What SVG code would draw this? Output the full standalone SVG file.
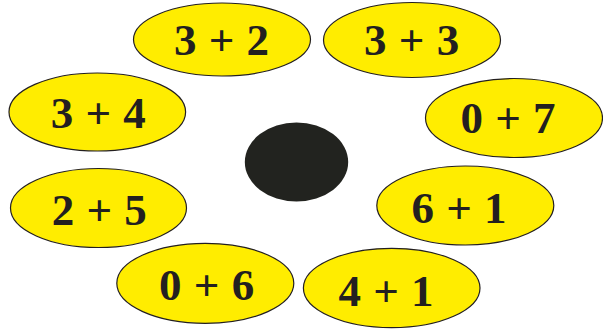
<svg xmlns="http://www.w3.org/2000/svg" width="603" height="331" viewBox="0 0 603 331">
<style>
.pet{fill:#ffed00;stroke:#231f20;stroke-width:1.2}
.lbl{font-family:"Liberation Serif","Times New Roman",serif;font-weight:bold;font-size:45px;fill:#231f20;text-anchor:middle;word-spacing:1px}
</style>
<rect width="603" height="331" fill="#ffffff"/>
<g id="center"><ellipse cx="296.5" cy="162" rx="51.7" ry="39.5" fill="#22231f"/></g>
<g id="n32"><ellipse class="pet" cx="222" cy="39.5" rx="88.5" ry="36.5"/><text class="lbl" x="221.5" y="55">3 + 2</text></g>
<g id="n33"><ellipse class="pet" cx="412" cy="40" rx="88.5" ry="37.5"/><text class="lbl" x="411.7" y="55">3 + 3</text></g>
<g id="n34"><ellipse class="pet" cx="97.3" cy="112" rx="88.3" ry="39"/><text class="lbl" x="98.3" y="128">3 + 4</text></g>
<g id="n07"><ellipse class="pet" cx="514" cy="118" rx="88.5" ry="39.5"/><text class="lbl" x="508" y="133">0 + 7</text></g>
<g id="n25"><ellipse class="pet" cx="98.5" cy="208" rx="88" ry="39.5"/><text class="lbl" x="99.3" y="225">2 + 5</text></g>
<g id="n61"><ellipse class="pet" cx="465.3" cy="205.5" rx="88.5" ry="39.5"/><text class="lbl" x="459" y="223">6 + 1</text></g>
<g id="n06"><ellipse class="pet" cx="205.3" cy="283.3" rx="88.5" ry="40"/><text class="lbl" x="206.7" y="300">0 + 6</text></g>
<g id="n41"><ellipse class="pet" cx="391.7" cy="288" rx="88.3" ry="39.7"/><text class="lbl" x="386" y="305.5">4 + 1</text></g>
<g id="connectors"></g>
</svg>
